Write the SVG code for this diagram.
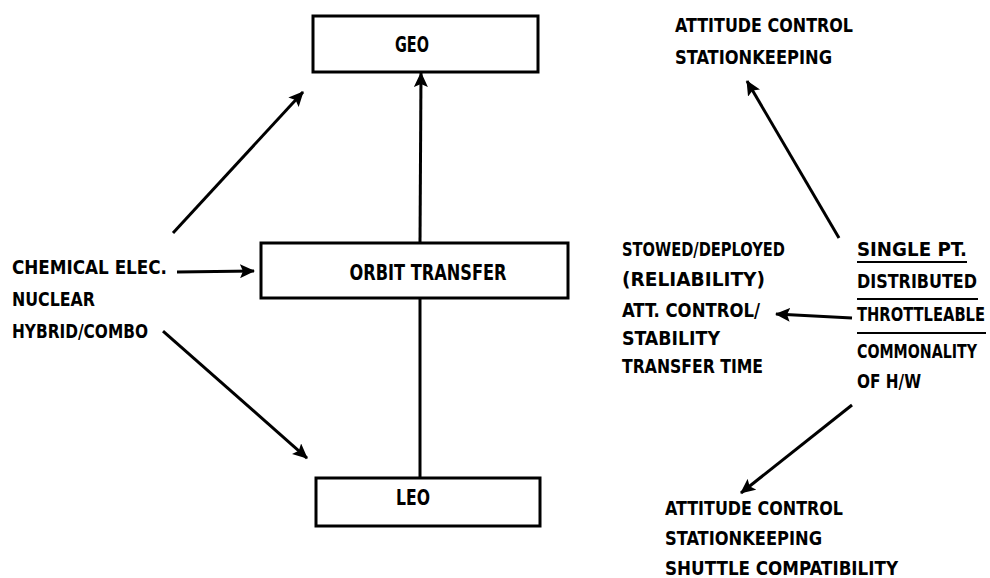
<svg xmlns="http://www.w3.org/2000/svg" width="990" height="578" viewBox="0 0 990 578">
<style>
text{font-family:"DejaVu Sans Condensed","Liberation Sans","DejaVu Sans",sans-serif;font-weight:bold;fill:#000}
.t{font-size:20px}
.b{font-size:22px}
.box{fill:#fff;stroke:#000;stroke-width:3}
.ln{stroke:#000;stroke-width:3;fill:none}
.rule{stroke:#000;stroke-width:2;fill:none}
.ar{stroke:#000;stroke-width:3;fill:none;marker-end:url(#ah)}
</style>
<defs>
<marker id="ah" markerUnits="userSpaceOnUse" markerWidth="16" markerHeight="14" refX="14" refY="7" orient="auto">
<path d="M0,0 L15,7 L0,14 L3,7 Z" fill="#000"/>
</marker>
</defs>
<rect width="990" height="578" fill="#fff"/>
<g id="connectors">
<line class="ar" x1="173" y1="233" x2="303" y2="92"/>
<line class="ar" x1="163" y1="331" x2="307" y2="458"/>
<line class="ar" x1="177" y1="272" x2="254" y2="271"/>
<line class="ar" x1="420" y1="243" x2="421" y2="73"/>
<line class="ln" x1="420" y1="298" x2="420" y2="478"/>
<line class="ar" x1="839" y1="238" x2="747" y2="81"/>
<line class="ar" x1="852" y1="318" x2="776" y2="314"/>
<line class="ar" x1="852" y1="405" x2="741" y2="493"/>
</g>
<g id="geo">
<rect class="box" x="313" y="16" width="225" height="56"/>
<text class="b" x="412" y="52" text-anchor="middle" textLength="34" lengthAdjust="spacingAndGlyphs">GEO</text>
</g>
<g id="orbit-transfer">
<rect class="box" x="261" y="243" width="307" height="55"/>
<text class="b" x="428" y="280" text-anchor="middle" textLength="157" lengthAdjust="spacingAndGlyphs">ORBIT TRANSFER</text>
</g>
<g id="leo">
<rect class="box" x="316" y="478" width="224" height="48"/>
<text class="b" x="413" y="505" text-anchor="middle" textLength="34" lengthAdjust="spacingAndGlyphs">LEO</text>
</g>
<g id="propulsion-types">
<text class="t" x="12" y="274" textLength="155" lengthAdjust="spacingAndGlyphs">CHEMICAL ELEC.</text>
<text class="t" x="12" y="306" textLength="83" lengthAdjust="spacingAndGlyphs">NUCLEAR</text>
<text class="t" x="12" y="338" textLength="136" lengthAdjust="spacingAndGlyphs">HYBRID/COMBO</text>
</g>
<g id="top-right">
<text class="t" x="675" y="32" textLength="178" lengthAdjust="spacingAndGlyphs">ATTITUDE CONTROL</text>
<text class="t" x="675" y="64" textLength="157" lengthAdjust="spacingAndGlyphs">STATIONKEEPING</text>
</g>
<g id="middle-left">
<text class="t" x="622" y="256" textLength="163" lengthAdjust="spacingAndGlyphs">STOWED/DEPLOYED</text>
<text class="t" x="622" y="286" textLength="143" lengthAdjust="spacingAndGlyphs">(RELIABILITY)</text>
<text class="t" x="622" y="317" textLength="138" lengthAdjust="spacingAndGlyphs">ATT. CONTROL/</text>
<text class="t" x="622" y="345" textLength="98" lengthAdjust="spacingAndGlyphs">STABILITY</text>
<text class="t" x="622" y="373" textLength="141" lengthAdjust="spacingAndGlyphs">TRANSFER TIME</text>
</g>
<g id="middle-right">
<text class="t" x="857" y="256" textLength="110" lengthAdjust="spacingAndGlyphs">SINGLE PT.</text>
<line class="rule" x1="857" y1="262" x2="967" y2="262"/>
<text class="t" x="857" y="288" textLength="120" lengthAdjust="spacingAndGlyphs">DISTRIBUTED</text>
<line class="rule" x1="857" y1="299" x2="978" y2="299"/>
<text class="t" x="857" y="321" textLength="128" lengthAdjust="spacingAndGlyphs">THROTTLEABLE</text>
<line class="rule" x1="857" y1="333" x2="986" y2="333"/>
<text class="t" x="857" y="358" textLength="120" lengthAdjust="spacingAndGlyphs">COMMONALITY</text>
<text class="t" x="857" y="388" textLength="64" lengthAdjust="spacingAndGlyphs">OF H/W</text>
</g>
<g id="bottom-right">
<text class="t" x="665" y="515" textLength="178" lengthAdjust="spacingAndGlyphs">ATTITUDE CONTROL</text>
<text class="t" x="665" y="545" textLength="157" lengthAdjust="spacingAndGlyphs">STATIONKEEPING</text>
<text class="t" x="665" y="575" textLength="233" lengthAdjust="spacingAndGlyphs">SHUTTLE COMPATIBILITY</text>
</g>
</svg>
